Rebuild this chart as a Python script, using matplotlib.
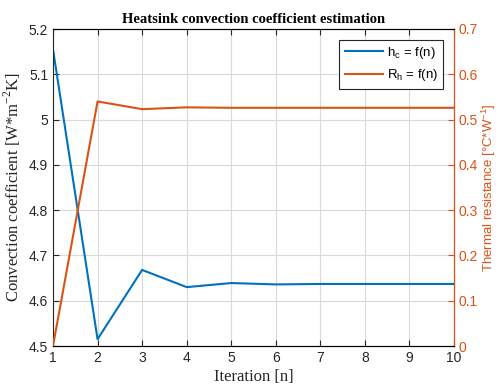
import numpy as np
import matplotlib.pyplot as plt

# iteration data
iterations = [1, 2, 3, 4, 5, 6, 7, 8, 9, 10]
hc_values = [5.155, 4.515, 4.668, 4.630, 4.639, 4.636, 4.637, 4.637, 4.637, 4.637]
rh_values = [0.0, 0.540, 0.523, 0.527, 0.526, 0.526, 0.526, 0.526, 0.526, 0.526]

blue = '#0072BD'
orange = '#D95319'

plt.rcParams['font.family'] = 'Liberation Sans'
plt.rcParams['font.size'] = 10

fig = plt.figure(figsize=(4.99, 3.88), dpi=100)
ax = fig.add_axes([53 / 499, 42 / 388, 401 / 499, 317 / 388])
ax2 = ax.twinx()

l1, = ax.plot(iterations, hc_values, color=blue, linewidth=1.5,
              label=r'h$_\mathregular{c}$ = f(n)')
l2, = ax2.plot(iterations, rh_values, color=orange, linewidth=1.5,
               label=r'R$_\mathregular{h}$ = f(n)')

ax.set_xlim(1, 10)
ax.set_ylim(4.5, 5.2)
ax.set_xticks(range(1, 11))
ax.set_yticks(np.arange(4.5, 5.21, 0.1))
ax.set_yticklabels(['4.5', '4.6', '4.7', '4.8', '4.9', '5', '5.1', '5.2'])
ax2.set_ylim(0, 0.7)
ax2.set_yticks(np.arange(0, 0.71, 0.1))
ax2.set_yticklabels(['0', '0.1', '0.2', '0.3', '0.4', '0.5', '0.6', '0.7'])

ax.grid(True, color='#d9d9d9', linewidth=0.8)
ax.set_axisbelow(True)

ax.tick_params(direction='in', top=True, length=4, colors='#262626',
               labelsize=10)
ax2.tick_params(direction='in', length=4, colors=orange, labelsize=10)
ax2.spines['right'].set_color(orange)
for side in ['left', 'bottom', 'top']:
    ax.spines[side].set_color('#262626')
ax2.spines['left'].set_visible(False)

ax.set_title('Heatsink convection coefficient estimation',
             family='Liberation Serif', fontweight='bold', fontsize=10.5,
             pad=4)
ax.set_xlabel('Iteration [n]', family='Liberation Serif', fontsize=12,
              color='#262626', labelpad=3)
ax.set_ylabel(r'Convection coefficient [W*m$^\mathregular{-2}$K]',
              family='Liberation Serif', fontsize=12, color='#262626',
              labelpad=4)
ax2.set_ylabel(r'Thermal resistance [°C*W$^\mathregular{-1}$]',
               color=orange, fontsize=9.5, labelpad=1)

leg = ax2.legend(handles=[l1, l2], loc='upper right', fontsize=9.5,
                 fancybox=False, edgecolor='#262626', framealpha=1,
                 handlelength=2.9, handletextpad=0.3, borderaxespad=0.8)
leg.get_frame().set_linewidth(0.8)

fig.savefig('out.png', dpi=100)
